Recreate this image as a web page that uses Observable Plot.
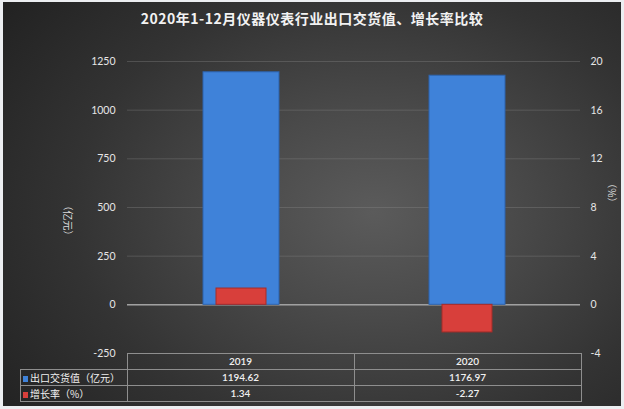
<!DOCTYPE html>
<html>
<head>
<meta charset="utf-8">
<script src="https://cdn.jsdelivr.net/npm/d3@7"></script>
<script src="https://cdn.jsdelivr.net/npm/@observablehq/plot@0.6"></script>
<style>
  html, body { margin: 0; padding: 0; background: #eceef1; }
  #wrap { position: relative; width: 624px; height: 409px; overflow: hidden; background: #eceef1; font-family: Lato, "Noto Sans CJK SC", sans-serif; }
  #panel { position: absolute; left: 3px; top: 2px; width: 618px; height: 404px;
    background: radial-gradient(ellipse 75% 85% at 60% 52%, #5b5b5b 0%, #4a4a4a 30%, #333 65%, #222 100%); }
  #title { position: absolute; left: 0; top: 8px; width: 624px; text-align: center; color: #f2f2f2;
    font: bold 14px "Noto Sans CJK SC", sans-serif; letter-spacing: 0.5px; }
  #chart { position: absolute; left: 0; top: 0; }
  #tbl { position: absolute; left: 20px; top: 353px; border-collapse: collapse; color: #f0f0f0; font-size: 10px; }
  #tbl td { border: 1px solid #8e8e8e; height: 14.6px; padding: 0; text-align: center; font-family: Lato, "Noto Sans CJK SC", sans-serif; font-weight: 600; }
  #tbl td.lab { text-align: left; font-weight: normal; font-family: "Noto Sans CJK SC", sans-serif; padding-left: 2px; white-space: nowrap; }
  #tbl td.empty { border: none; }
  .key { display: inline-block; width: 5px; height: 6px; margin-right: 2px; vertical-align: 0px; }
</style>
</head>
<body>
<div id="wrap">
  <div id="panel"></div>
  <div id="chart"></div>
  <div id="title"></div>
  <table id="tbl"></table>
</div>
<script>
const title = "2020年1-12月仪器仪表行业出口交货值、增长率比较";
const years = ["2019", "2020"];
const exportValue = [1194.62, 1176.97];
const growth = [1.34, -2.27];
const leftTicks = [-250, 0, 250, 500, 750, 1000, 1250];
const rightTicks = [-4, 0, 4, 8, 12, 16, 20];
const seriesNames = ["出口交货值（亿元）", "增长率（%）"];
const seriesColors = ["#3f82d9", "#d83f3b"];
const leftLabel = "（亿元）";
const rightLabel = "（%）";

const ratio = 1250 / 20; // right axis value -> left axis units

const rows = years.map((y, i) => ({year: y, value: exportValue[i], growth: growth[i], growthScaled: growth[i] * ratio}));

const plot = Plot.plot({
  width: 624,
  height: 409,
  marginTop: 61,
  marginBottom: 56,
  marginLeft: 127,
  marginRight: 44,
  style: {background: "transparent", color: "#e6e6e6", fontFamily: "Lato, 'Noto Sans CJK SC', sans-serif", fontSize: "10.5px"},
  x: {type: "band", domain: years, padding: 0, axis: null},
  y: {domain: [-250, 1250], axis: null},
  marks: [
    Plot.gridY(leftTicks, {stroke: "#8a8a8a", strokeOpacity: 0.35, strokeWidth: 1}),
    Plot.ruleY([0], {stroke: "#a0a0a0", strokeWidth: 1.5}),
    Plot.barY(rows, {x: "year", y: "value", fill: seriesColors[0], stroke: "#2d63ad", strokeWidth: 1, insetLeft: 75, insetRight: 75}),
    Plot.barY(rows, {x: "year", y: "growthScaled", fill: seriesColors[1], stroke: "#a42c29", strokeWidth: 1, insetLeft: 88, insetRight: 88}),
    Plot.axisY(leftTicks, {anchor: "left", tickSize: 0, tickPadding: 12, label: null, tickFormat: d => String(d), fill: "#e6e6e6"}),
    Plot.axisY(rightTicks.map(v => v * ratio), {anchor: "right", tickSize: 0, tickPadding: 10, label: null, tickFormat: d => String(d / ratio), fill: "#e6e6e6"}),
    Plot.text([leftLabel], {frameAnchor: "left", dx: -60, dy: -7, rotate: 90, fill: "#dcdcdc", fontSize: 10, fontFamily: "'Noto Sans CJK SC', sans-serif"}),
    Plot.text([rightLabel], {frameAnchor: "right", dx: 31, dy: 0, rotate: 90, fill: "#dcdcdc", fontSize: 10, fontFamily: "'Noto Sans CJK SC', sans-serif"})
  ]
});
document.getElementById("chart").appendChild(plot);
document.getElementById("title").textContent = title;

// data table below the plot
const tbl = document.getElementById("tbl");
let html = `<tr><td class="empty" style="width:106px"></td>` + years.map(y => `<td style="width:226px">${y}</td>`).join("") + `</tr>`;
const seriesVals = [exportValue, growth];
seriesNames.forEach((name, s) => {
  html += `<tr><td class="lab"><span class="key" style="background:${seriesColors[s]}"></span>${name}</td>` +
    seriesVals[s].map(v => `<td>${v}</td>`).join("") + `</tr>`;
});
tbl.innerHTML = html;
</script>
</body>
</html>
